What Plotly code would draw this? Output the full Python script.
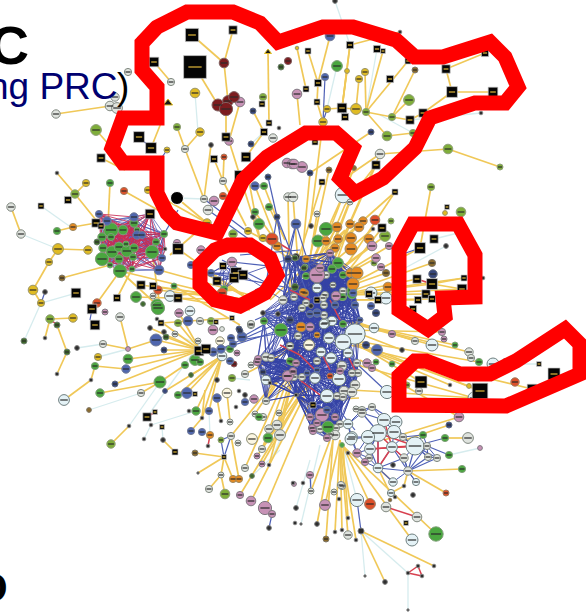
import math
import plotly.graph_objects as go

# ---------- nodes: (x, y, diameter) ----------
black_boxes = [(192,35,11),(233,30,7),(195,67,19),(154,62,8),(139,137,9),(151,148,9),(101,158,7),(226,137,7),(246,157,8),(214,159,6),
 (240,176,9),(264,132,6),(262,104,5),(269,123,5),(150,214,8),(96,223,7),(68,200,6),(41,206,5),(101,226,5),(178,249,9),(76,293,8),
 (141,285,7),(153,286,6),(117,298,6),(178,298,7),(217,281,7),(223,266,6),(236,273,9),(243,275,8),(234,278,8),(350,45,6),(308,51,5),
 (377,49,6),(383,51,4),(318,83,6),(306,89,5),(317,102,5),(342,108,8),(345,117,6),(390,79,6),(408,61,5),(446,69,7),(485,53,6),
 (452,92,9),(493,92,8),(423,113,7),(410,120,7),(315,142,5),(376,165,7),(322,182,5),(395,192,5),(382,228,7),(434,239,7),(420,248,9),
 (417,279,7),(432,284,9),(462,289,8),(426,294,7),(432,299,6),(418,300,6),(464,278,5),(369,294,6),(378,300,6),(447,207,4),(92,309,8),
 (95,325,8),(161,323,5),(199,351,8),(206,349,8),(147,417,7),(155,412,4),(162,427,4),(175,452,5),(224,457,4),(195,394,4),(232,318,4),
 (216,322,4),(413,309,6),(539,364,4),(554,374,10),(421,382,10),(480,391,13),(532,389,8),(313,405,5),(406,523,4),(317,300,5)]
dark_red = [(224,63,8),(288,61,6),(218,105,10),(228,101,9),(234,97,9),(226,109,11),(234,364,5)]
pink = [(240,102,8),(229,141,7),(287,163,8),(292,164,8),(214,201,8),(201,250,7),(177,243,6),(232,262,8),(297,94,8),(302,167,9),(294,164,8),
 (330,253,6),(372,246,8),(389,246,6),(376,258,7),(381,267,6),(317,275,13),(320,268,7),(336,296,8),(310,327,7),(392,334,6),(367,363,7),
 (372,368,6),(296,363,6),(293,372,6),(287,376,8),(340,371,6),(322,415,11),(310,417,6),(335,417,6),(317,423,6),(312,428,6),(327,438,6),
 (313,431,6),(257,362,6),(254,399,7),(288,376,9),(293,371,6),(258,359,6),(240,495,6),(251,501,8),(265,508,11),(272,514,6),(213,330,8),
 (179,313,7),(105,312,5),(128,349,4),(357,453,7),(365,462,6),(459,417,8),(442,332,6),(444,339,5),(310,475,6),(294,484,4),(325,505,9),
 (257,456,5),(262,464,5),(237,353,5),(480,448,4)]
grey_white = [(171,82,6),(128,72,6),(115,97,7),(110,106,8),(117,108,9),(56,114,7),(185,149,6),(204,199,6),(208,210,8),(223,181,6),(273,138,7),
 (288,197,7),(11,207,7),(21,234,7),(380,154,8),(350,202,5),(293,197,8),(317,214,5),(326,275,6),(343,291,6),(333,285,5),(325,295,6),(283,300,7),
 (294,297,6),(306,303,6),(302,308,6),(323,298,6),(324,305,6),(324,315,6),(251,325,6),(298,336,6),(290,346,6),(317,361,6),(342,366,8),(357,363,6),
 (358,373,6),(294,377,6),(302,377,6),(352,373,6),(355,385,8),(344,391,8),(352,392,8),(337,396,6),(343,397,6),(340,424,6),(320,429,6),(336,428,6),
 (335,435,8),(330,434,6),(356,409,5),(362,410,6),(372,407,6),(362,413,7),(403,437,6),(427,446,6),(428,457,6),(437,458,6),(404,458,7),(408,471,7),
 (369,458,6),(342,486,6),(469,352,7),(471,358,6),(415,341,6),(419,391,6),(311,491,5),(341,485,6),(334,492,5),(348,535,7),(386,507,8),(417,517,8),
 (103,344,6),(120,317,7),(141,393,6),(153,296,5),(175,334,5),(200,321,6),(222,329,4),(198,341,5),(221,475,5),(209,489,6),(231,436,6),(238,443,5),
 (230,422,5),(266,401,6),(255,414,5),(263,417,6),(279,413,5),(277,425,8),(269,429,7),(280,435,9),(262,449,6),(245,468,6),(251,365,5),(245,374,6),
 (266,357,7),(271,358,6),(290,346,6),(251,324,6),(468,438,9)]
pale_cyan = [(343,195,13),(371,293,10),(386,298,10),(317,288,8),(332,321,8),(325,323,8),(374,328,8),(355,334,17),(343,342,13),(329,338,9),(321,352,8),
 (331,358,9),(348,353,8),(315,378,9),(339,379,11),(327,396,11),(387,392,11),(348,424,8),(352,437,9),(384,420,11),(396,422,10),(394,432,11),(378,433,14),
 (368,437,11),(351,439,10),(415,446,15),(392,447,9),(370,449,9),(378,468,8),(393,482,7),(416,482,6),(391,493,6),(432,345,10),(493,364,10),(474,398,10),
 (357,500,11),(412,540,10),(170,296,9),(64,400,9),(190,311,8),(222,356,8),(266,380,8),(324,324,8)]
cream = [(309,345,9),(252,439,9),(227,393,8),(220,341,7)]
green = [(110,183,6),(57,231,6),(264,186,6),(269,207,6),(255,212,6),(259,224,9),(164,234,6),(111,230,12),(123,230,8),(134,223,7),(102,237,7),(111,237,6),
 (103,248,7),(112,252,10),(119,247,8),(127,251,10),(134,248,7),(133,257,6),(119,259,7),(102,259,11),(152,252,11),(156,242,6),(110,265,5),(120,271,11),
 (132,269,5),(126,244,5),(137,230,5),(136,297,9),(157,305,10),(174,286,5),(224,289,6),(337,66,9),(326,229,11),(318,241,10),(338,263,9),(305,267,5),
 (332,269,7),(306,276,6),(343,275,6),(352,294,8),(352,290,8),(343,297,6),(342,297,6),(281,330,11),(343,324,6),(376,362,5),(292,362,6),(328,427,10),
 (423,435,6),(445,438,6),(449,455,6),(462,469,6),(455,345,5),(479,362,6),(392,364,5),(436,534,12),(128,359,8),(95,366,6),(100,393,7),(160,382,10),
 (158,308,11),(185,365,6),(195,360,9),(200,362,6),(178,395,6),(196,411,7),(230,349,6),(259,417,6),(268,438,8),(264,321,6),(290,361,6),(342,445,4)]
lime = [(177,127,6),(263,97,6),(96,130,9),(75,194,7),(233,234,7),(366,112,6),(392,117,6),(409,100,9),(387,136,8),(413,133,6),(448,149,8),(431,187,6),
 (461,212,8),(385,236,9),(374,263,5),(407,385,5),(50,319,7),(111,444,7),(178,323,6),(211,321,6),(225,494,8),(221,440,5),(232,378,6),(500,167,5),(391,221,5)]
yellow = [(195,93,8),(200,132,7),(167,150,5),(207,223,7),(248,231,6),(263,238,6),(86,183,6),(58,249,9),(88,250,7),(49,262,6),(33,290,8),(41,303,6),(148,190,6),
 (297,48,3),(347,71,4),(365,72,6),(359,79,6),(327,109,6),(356,109,9),(323,122,7),(445,213,4),(469,386,4),(73,318,7),(98,357,6)]
orange = [(73,227,6),(277,246,7),(337,227,8),(350,224,7),(363,221,7),(359,227,8),(369,239,8),(351,238,9),(338,239,7),(326,241,7),(335,248,7),(351,249,10),(306,259,6),
 (350,273,7),(357,273,10),(353,284,10),(388,287,8),(305,293,6),(303,292,6),(301,327,8),(317,335,5),(210,435,6),(233,479,6),(239,479,6)]
red_orange = [(124,191,6),(224,157,5),(223,196,6),(272,239,10),(158,290,7),(97,303,7),(222,293,8),(375,220,8),(330,376,5),(515,382,7),(446,493,5),(370,504,9)]
brown = [(354,168,4),(329,170,5),(432,263,6),(386,273,6),(195,453,5),(326,539,5),(390,500,3),(89,410,4),(62,278,5),(415,70,5)]
blue = [(255,186,7),(191,265,6),(211,273,6),(330,36,8),(325,77,6),(134,217,7),(107,221,7),(137,235,7),(142,235,6),(99,214,6),(159,270,8),(162,258,6),(296,224,8),
 (353,293,6),(360,320,5),(355,305,6),(335,305,6),(371,306,6),(317,313,7),(310,314,6),(377,350,9),(307,373,5),(317,370,5),(327,410,6),(245,402,6),(156,340,10),
 (126,369,7),(188,321,8),(213,352,7),(221,349,7),(242,337,8),(233,344,6),(231,338,6),(230,361,6),(187,393,9),(209,411,6),(191,431,6),(202,432,6),(217,398,7)]
dark_blue = [(253,111,5),(251,144,5),(268,177,5),(277,217,5),(371,132,5),(310,173,5),(433,274,7),(288,259,6),(290,320,6),(239,329,5),(366,345,6),(449,425,5),(115,384,5),
 (164,350,5),(165,391,4),(240,331,5),(263,372,5),(376,313,6)]
dark = [(211,145,4),(57,173,3),(279,128,3),(253,217,4),(165,249,3),(45,292,4),(97,242,4),(335,1,4),(400,32,3),(481,113,3),(373,229,3),(311,226,4),(446,246,4),(483,278,3),
 (296,257,6),(263,313,4),(278,314,4),(311,306,4),(297,395,3),(239,391,3),(245,395,4),(236,407,3),(393,465,4),(404,486,3),(413,495,4),(348,453,3),(402,350,4),(505,361,4),
 (450,385,3),(296,395,3),(303,483,3),(339,499,3),(348,518,3),(395,497,3),(317,524,4),(301,524,2),(295,523,3),(296,508,4),(335,532,3),(342,530,3),(356,540,3),(361,531,5),
 (434,566,3),(365,576,2),(385,582,4),(408,573,3),(418,566,3),(422,576,3),(408,610,2),(45,338,3),(77,348,4),(57,374,3),(91,380,3),(129,426,3),(151,425,3),(144,439,3),
 (163,440,4),(150,328,4),(157,319,3),(164,332,4),(189,411,3),(202,418,3),(208,446,3),(217,380,4),(198,473,2),(221,421,3),(269,465,3),(270,383,3),(269,528,4),(293,483,3)]
dark_green = [(281,67,5),(57,325,5),(24,341,5),(67,352,5),(191,375,4),(252,476,4),(295,287,6),(304,268,5),(295,258,5),(143,304,4),(166,337,5),(97,242,5)]
black_discs = [(177,198,13)]
triangles = [(268,52,6),(168,103,8)]

# ---------- edges: (x1, y1, x2, y2) ----------
gold_edges = [(192,35,224,63),(233,30,224,63),(195,67,218,105),(224,63,228,101),(154,62,171,82),(226,109,226,137),(240,102,229,141),(185,149,177,127),(185,149,200,132),
 (185,149,204,199),(211,145,204,199),(214,159,223,181),(224,157,223,181),(223,181,246,226),(240,176,229,141),(268,52,269,123),(263,97,262,104),(253,111,264,132),(264,132,246,157),
 (151,148,163,118),(96,130,112,148),(101,158,125,170),(56,114,110,106),(177,198,207,223),(148,190,207,223),(207,223,170,255),(57,173,75,194),(86,183,75,194),(75,194,100,225),
 (110,183,108,225),(124,191,165,214),(11,207,21,234),(58,249,88,250),(57,231,73,227),(73,227,96,223),(58,249,49,262),(49,262,33,290),(33,290,41,303),(62,278,110,265),
 (50,319,73,318),(50,319,45,338),(57,325,67,352),(67,352,57,374),(103,344,128,349),(128,349,156,340),(95,366,126,369),(95,366,91,380),(91,380,64,400),(120,317,128,349),
 (200,350,156,340),(200,350,164,350),(200,350,128,359),(200,350,126,369),(200,350,115,384),(200,350,166,337),(200,350,178,323),(200,350,179,313),(200,350,157,319),(200,350,150,328),
 (100,393,160,382),(160,382,185,365),(141,393,160,382),(129,426,111,444),(163,440,175,452),(224,457,195,453),(224,457,198,473),(224,457,221,475),(221,475,209,489),(221,475,225,494),
 (224,457,233,479),(231,436,239,479),(227,393,230,422),(217,398,221,421),(202,418,191,431),(202,418,205,390),(222,356,209,411),(222,356,202,418),(222,356,196,411),(222,356,187,393),
 (222,356,178,395),(222,356,165,391),(222,356,191,375),(300,345,262,449),(300,345,245,468),(300,350,269,465),(310,380,240,495),(310,385,251,501),(315,390,265,508),(300,350,231,436),
 (300,345,255,414),(300,345,277,425),(300,345,280,435),(300,345,266,401),(300,345,245,374),(310,370,268,438),(310,370,262,449),(310,380,257,456),(310,380,262,464),(300,345,258,359),
 (340,440,325,505),(333,440,317,524),(340,440,335,532),(340,440,342,530),(333,440,326,539),(340,440,356,540),(340,440,341,485),(340,440,348,535),(330,440,311,491),(343,446,348,518),
 (343,446,436,534),(343,446,412,540),(343,446,370,504),(361,531,434,566),(361,531,385,582),(300,290,343,195),(305,290,317,214),(295,270,322,182),(300,280,310,173),(305,280,329,170),
 (310,280,354,168),(320,290,380,154),(330,290,395,192),(325,280,376,165),(320,280,350,202),(380,154,448,149),(448,149,500,167),(380,154,345,178),(371,132,310,173),(376,165,345,205),
 (345,205,322,260),(350,200,330,250),(330,250,395,192),(340,290,420,248),(340,295,417,279),(340,295,432,263),(340,295,432,284),(340,295,462,289),(340,295,464,278),(340,295,426,294),
 (340,300,432,299),(340,300,418,300),(432,284,464,278),(432,284,462,289),(431,187,420,248),(342,108,327,109),(342,108,347,71),(342,108,350,45),(356,109,359,79),(356,109,342,108),
 (366,112,365,72),(366,112,383,51),(366,112,408,61),(366,112,392,117),(392,117,410,120),(392,117,415,70),(392,117,409,100),(366,112,387,136),(387,136,413,133),(410,120,423,113),
 (423,113,452,92),(452,92,493,92),(452,92,446,69),(446,69,485,53),(350,45,400,32),(323,122,317,102),(317,102,318,83),(318,83,308,51),(318,83,330,36),(306,89,297,48),(297,94,300,125),
 (323,122,310,225),(350,45,342,108),(340,320,469,352),(340,320,432,345),(350,330,442,332),(340,320,455,345),(350,340,479,362),(350,330,402,350),(350,320,415,341),(350,340,421,382),
 (350,340,480,391),(355,345,469,386),(355,345,450,385),(350,345,532,389),(340,360,474,398),(360,360,459,417),(387,392,474,398),(350,390,387,392),(378,468,390,493),(378,468,393,482),
 (408,471,462,469),(408,471,446,493),(404,486,391,493),(408,471,404,486),(468,438,445,438),(459,417,384,440),(449,425,405,440),(250,300,178,249),(250,300,191,265),(250,300,153,286),
 (250,300,141,285),(250,295,159,270),(250,310,178,298),(240,325,174,286),(232,318,161,323),(250,300,211,273),(240,300,158,290),(235,290,170,296),(240,300,136,297),(240,300,120,271),
 (152,252,159,300),(120,271,97,303),(132,269,117,298),(120,271,157,305),(300,400,313,405),(320,400,359,398),(270,300,345,230),(280,300,355,221),(290,295,363,221),(300,290,373,229),
 (310,290,385,236),(300,300,372,246),(300,300,389,246),(300,300,376,258),(310,300,386,273),(300,260,248,231),(290,260,263,238),(260,240,248,176),(260,240,240,176),(280,250,255,186),
 (285,240,264,186),(285,240,269,207),(275,240,255,212),(300,290,337,227),(300,290,326,229),(330,280,350,224),(345,275,382,228),(290,290,288,197),(300,290,293,197)]
cyan_edges = [(264,132,251,144),(195,93,198,132),(204,199,177,198),(41,206,72,228),(21,234,58,249),(41,303,76,293),(41,303,24,341),(77,348,103,344),(98,357,128,349),(175,334,200,345),
 (141,393,89,410),(160,382,129,426),(151,425,196,411),(151,425,144,439),(162,427,163,440),(196,411,222,356),(147,417,195,350),(209,411,210,435),(335,1,350,45),(377,49,366,112),(337,66,327,109),
 (434,239,470,230),(446,246,405,268),(449,455,480,448),(357,500,343,446),(361,531,365,576),(361,531,408,573),(408,573,408,610),(320,445,301,524),(310,460,296,508),(410,120,481,113),
 (252,476,280,450),(250,380,232,378),(280,440,269,465),(493,364,539,364),(413,133,380,115)]
blue_edges = [(139,137,151,148),(167,150,160,160),(214,201,208,210),(325,77,323,122),(327,109,323,122),(342,108,345,117),(45,292,41,303),(92,309,90,320),(231,436,221,440),(231,436,224,457),
 (221,440,224,457),(415,446,445,438),(427,446,449,455),(423,435,403,437),(420,248,400,255),(357,500,361,531),(311,491,310,475),(272,514,269,528),(208,210,250,240),(204,199,245,230),
 (164,234,178,210),(164,234,134,223),(164,234,137,235),(164,234,159,250),(152,252,137,235),(415,446,437,458),(408,471,437,458),(408,471,416,482),(378,468,393,482),(378,468,408,471),
 (384,420,362,413),(379,433,362,413),(372,407,396,422),(355,430,315,380),(387,392,342,350),(240,340,300,330),(213,352,280,330),(221,349,285,320),(242,337,290,310),(255,320,300,300),
 (222,260,300,300),(232,262,305,270),(211,273,300,290),(240,255,300,250),(245,240,300,300),(255,290,320,260),(285,280,296,224),(296,224,320,300),(277,217,310,300),(277,217,290,300),
 (296,224,280,280),(277,217,265,290),(268,177,280,230),(378,468,392,447),(378,468,404,458),(378,468,370,449),(378,468,378,433),(408,471,415,446),(408,471,392,447),(408,471,427,446),
 (408,471,428,457),(408,471,404,458),(378,433,370,449),(384,420,378,433),(396,422,394,432),(415,446,427,446),(415,446,428,457),(394,432,415,446)]
red_edges = [(147,417,155,412),(210,435,208,446),(50,319,57,325),(386,507,417,517),(408,573,418,566),(418,566,422,576),(408,573,422,576),(417,279,432,284),(415,446,378,433),(415,446,392,447),
 (415,446,370,449),(378,433,392,447),(384,420,392,447),(392,447,378,468),(370,449,415,446),(404,458,392,447),(378,433,378,468),(394,432,368,437),(272,239,290,250),(280,345,300,355),
 (320,350,330,370),(300,355,315,370),(300,380,320,395),(290,290,310,300),(330,300,340,320),(345,350,355,370)]

# hand-traced red marker outlines
outline_top_x = [142,157,187,233,260,278,293,323,353,396,415,443,490,505,518,505,475,430,415,383,355,340,353,336,306,293,267,243,217,177,167,157,157,123,112,123,157,157,142,142,157]
outline_top_y = [43,27,12,12,23,42,37,27,27,40,57,57,42,57,87,103,103,118,148,178,193,178,148,133,133,140,157,180,233,223,213,193,163,163,148,118,118,87,70,43,27]
outline_ring_x = [228,250,270,277,265,240,215,200,200,215,228,250]
outline_ring_y = [245,245,258,275,293,306,300,285,265,250,245,245]
outline_mid_x = [399,399,413,458,475,475,443,443,445,428,400,399,399]
outline_mid_y = [310,250,224,224,255,297,298,306,316,329,313,310,250]
outline_low_x = [399,415,426,460,490,516,565,580,580,548,506,399,399,415]
outline_low_y = [376,361,361,374,374,361,329,344,374,388,406,405,376,361]

node_styles = [
    ("pale", pale_cyan, "#e4f2f6", "#6f7f80"), ("cream", cream, "#fbf6e2", "#8a8a70"), ("grey", grey_white, "#dfe3de", "#808880"),
    ("green", green, "#4aa63f", "#7f9f78"), ("lime", lime, "#7fae3a", "#8f9f78"), ("yellow", yellow, "#e0bb22", "#9a9468"),
    ("orange", orange, "#e58a22", "#a08a60"), ("redorange", red_orange, "#df5029", "#a07a60"), ("brown", brown, "#8a6a2c", "#807868"),
    ("pink", pink, "#c792b6", "#807880"), ("darkred", dark_red, "#7c1c1f", "#806060"), ("blue", blue, "#4f66ae", "#707a98"),
    ("darkblue", dark_blue, "#36467c", "#606a80"), ("dark", dark, "#2e2e2e", "#808080"), ("darkgreen", dark_green, "#3f6a2c", "#708070"),
]
GROW = 1.2


def edge_xy(edges):
    xs, ys = [], []
    for x1, y1, x2, y2 in edges:
        xs += [x1, x2, None]
        ys += [y1, y2, None]
    return xs, ys


def links(nodes, reach):
    """Connect hand-read nodes that sit near one another in a dense cluster."""
    out = []
    for i, a in enumerate(nodes):
        for b in nodes[i + 1:]:
            if math.hypot(a[0] - b[0], a[1] - b[1]) < reach:
                out.append((a[0], a[1], b[0], b[1]))
    return out


everything = pale_cyan + cream + grey_white + green + lime + orange + pink + blue + dark_blue + dark + dark_green + black_boxes
core = [n for n in everything if 255 <= n[0] <= 365 and 250 <= n[1] <= 405]
core += [n for n in everything if 300 <= n[0] <= 345 and 405 <= n[1] <= 440]
ring = [n for n in everything if 205 <= n[0] <= 300 and 250 <= n[1] <= 300]
hub_left = [n for n in everything if 98 <= n[0] <= 165 and 212 <= n[1] <= 275]
lower = [n for n in everything if 345 <= n[0] <= 440 and 403 <= n[1] <= 490 and n[2] >= 6]
central_links = links(core, 45) + links(ring, 48)
hub_links = links(hub_left, 48)
lower_links = links(lower, 20)

fig = go.Figure()


def add_edges(edges, colour, width):
    xs, ys = edge_xy(edges)
    fig.add_trace(go.Scatter(x=xs, y=ys, mode="lines", line=dict(color=colour, width=width), hoverinfo="skip", showlegend=False))


add_edges(cyan_edges, "#d6ecee", 1.3)
add_edges(gold_edges, "#f0c858", 1.7)
add_edges(central_links, "rgba(52,66,165,0.8)", 1.0)
add_edges(blue_edges, "#4e60b6", 1.2)
add_edges(lower_links, "#4658b0", 1.0)
add_edges(hub_links[1::2], "rgba(80,90,180,0.8)", 0.9)
add_edges(hub_links[::2], "rgba(200,45,85,0.85)", 1.0)
add_edges(red_edges, "#d8404f", 1.5)

for name, nodes, fill, rim in node_styles:
    fig.add_trace(go.Scatter(
        x=[n[0] for n in nodes], y=[n[1] for n in nodes], mode="markers", name=name, showlegend=False, hoverinfo="skip",
        marker=dict(size=[n[2] * GROW for n in nodes], color=fill, opacity=1, line=dict(color=rim, width=1), symbol="circle"),
    ))
    big = [n for n in nodes if n[2] >= 5]
    fig.add_trace(go.Scatter(
        x=[n[0] for n in big], y=[n[1] for n in big], mode="markers", showlegend=False, hoverinfo="skip",
        marker=dict(symbol="line-ew", size=[max(3, n[2] * 0.6) for n in big], opacity=1, line=dict(color="#2a2a2a", width=1.2)),
    ))

fig.add_trace(go.Scatter(x=[n[0] for n in black_discs], y=[n[1] for n in black_discs], mode="markers", showlegend=False, hoverinfo="skip",
                         marker=dict(size=[n[2] for n in black_discs], color="#000000", opacity=1)))
fig.add_trace(go.Scatter(x=[n[0] for n in triangles], y=[n[1] for n in triangles], mode="markers", showlegend=False, hoverinfo="skip",
                         marker=dict(symbol="triangle-up", size=[n[2] for n in triangles], color="#1a1a1a", opacity=1, line=dict(color="#e0bb22", width=1))))
fig.add_trace(go.Scatter(x=[n[0] for n in black_boxes], y=[n[1] for n in black_boxes], mode="markers", showlegend=False, hoverinfo="skip",
                         marker=dict(symbol="square", size=[n[2] * GROW for n in black_boxes], color="#050505", opacity=1, line=dict(color="#c8c8c8", width=0.7))))
fig.add_trace(go.Scatter(x=[n[0] for n in black_boxes], y=[n[1] for n in black_boxes], mode="markers", showlegend=False, hoverinfo="skip",
                         marker=dict(symbol="line-ew", size=[max(2, n[2] * 0.5) for n in black_boxes], opacity=1, line=dict(color="#e2b93a", width=1.2))))

for xs, ys in [(outline_top_x, outline_top_y), (outline_ring_x, outline_ring_y), (outline_mid_x, outline_mid_y), (outline_low_x, outline_low_y)]:
    fig.add_trace(go.Scatter(x=xs, y=ys, mode="lines", line=dict(color="#ff0000", width=15), hoverinfo="skip", showlegend=False))

fig.add_annotation(x=31, y=65, text="<b>C</b>", showarrow=False, xanchor="right", yanchor="bottom", yshift=-12,
                   font=dict(family="Liberation Sans", size=54, color="#000000"))
fig.add_annotation(x=120, y=100, text="ng PRC", showarrow=False, xanchor="right", yanchor="bottom", yshift=-9,
                   font=dict(family="Liberation Sans", size=37, color="#000070"))
fig.add_annotation(x=131, y=100, text=")", showarrow=False, xanchor="right", yanchor="bottom", yshift=-9,
                   font=dict(family="Liberation Sans", size=37, color="#000000"))
fig.add_annotation(x=10, y=604, text="<b>O</b>", showarrow=False, xanchor="right", yanchor="bottom", yshift=-9,
                   font=dict(family="Liberation Sans", size=42, color="#000000"))

fig.update_layout(width=586, height=613, margin=dict(l=0, r=0, t=0, b=0), paper_bgcolor="white", plot_bgcolor="white",
                  xaxis=dict(visible=False, range=[0, 586], fixedrange=True),
                  yaxis=dict(visible=False, range=[613, 0], fixedrange=True), showlegend=False)
fig.write_html("out.html", config=dict(displayModeBar=False), post_script="document.body.style.margin='0';")
